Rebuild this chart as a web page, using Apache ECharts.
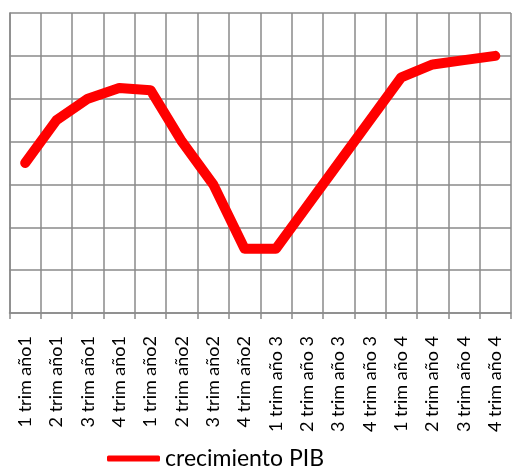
<!DOCTYPE html>
<html>
<head>
    <meta charset="utf-8">
    <title>crecimiento PIB</title>
    <script src="https://cdn.jsdelivr.net/npm/echarts@6/dist/echarts.min.js"></script>
    <style>
        html, body { margin: 0; padding: 0; background: #fff; }
        #chart { width: 512px; height: 470px; }
    </style>
</head>
<body>
<div id="chart"></div>
<script type="text/javascript">
// categorias (trimestres)
var trimestres = [
    '1 trim año1', '2 trim año1', '3 trim año1', '4 trim año1',
    '1 trim año2', '2 trim año2', '3 trim año2', '4 trim año2',
    '1 trim año 3', '2 trim año 3', '3 trim año 3', '4 trim año 3',
    '1 trim año 4', '2 trim año 4', '3 trim año 4', '4 trim año 4'
];
// valores
var crecimientoPIB = [3.5, 4.5, 5.0, 5.25, 5.2, 4.0, 3.0, 1.5, 1.5, 2.5, 3.5, 4.5, 5.5, 5.8, 5.9, 6.0];
var serieNombre = 'crecimiento PIB';

var gridColor = '#8a8a8a';
var myChart = echarts.init(document.getElementById('chart'));

myChart.setOption({
    animation: false,
    grid: { left: 9.5, right: 1, top: 13, bottom: 157 },
    legend: {
        left: 107,
        top: 447,
        padding: 0,
        itemWidth: 53,
        itemHeight: 6,
        itemGap: 6,
        data: [{ name: serieNombre, icon: 'roundRect' }],
        textStyle: { fontFamily: 'Lato', fontSize: 23, lineHeight: 23, color: '#000' }
    },
    xAxis: {
        type: 'category',
        data: trimestres,
        boundaryGap: true,
        axisLine: { lineStyle: { color: gridColor, width: 1.5 } },
        axisTick: { show: true, length: 6, interval: 0, lineStyle: { color: gridColor, width: 1.5 } },
        splitLine: { show: true, interval: 0, lineStyle: { color: gridColor, width: 1.5 } },
        axisLabel: {
            interval: 0,
            rotate: 90,
            margin: 23,
            fontFamily: 'Lato',
            fontSize: 18,
            color: '#000'
        }
    },
    yAxis: {
        type: 'value',
        min: 0,
        max: 7,
        interval: 1,
        axisLine: { show: true, lineStyle: { color: gridColor, width: 1.5 } },
        axisTick: { show: false },
        axisLabel: { show: false },
        splitLine: { show: true, lineStyle: { color: gridColor, width: 1.5 } }
    },
    series: [{
        name: serieNombre,
        type: 'line',
        data: crecimientoPIB,
        symbol: 'none',
        color: '#ff0000',
        lineStyle: { color: '#ff0000', width: 10, cap: 'round', join: 'round' }
    }]
});
</script>
</body>
</html>
